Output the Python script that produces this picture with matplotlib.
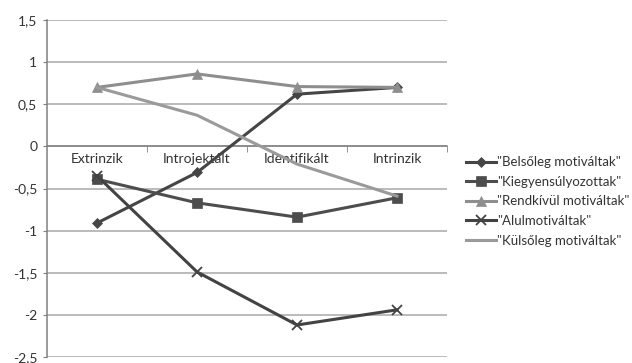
import matplotlib.pyplot as plt
from matplotlib.ticker import FuncFormatter, FixedLocator

# motivation profiles across regulation types
categories = ["Extrinzik", "Introjektált", "Identifikált", "Intrinzik"]
belsoleg = [-0.91, -0.31, 0.62, 0.70]
kiegyensulyozott = [-0.39, -0.67, -0.84, -0.61]
rendkivul = [0.70, 0.86, 0.71, 0.70]
alulmotivalt = [-0.35, -1.49, -2.12, -1.94]
kulsoleg = [0.70, 0.37, -0.21, -0.59]

plt.rcParams['font.family'] = ['Lato', 'DejaVu Sans']

fig = plt.figure(figsize=(6.32, 3.63), dpi=100)
ax = fig.add_axes([0.0744, 0.0165, 0.6329, 0.9284])

x = range(len(categories))
series = [
    ('"Belsőleg motiváltak"', belsoleg, "#454545", "D", 5),
    ('"Kiegyensúlyozottak"', kiegyensulyozott, "#4d4d4d", "s", 6.5),
    ('"Rendkívül motiváltak"', rendkivul, "#8e8e8e", "^", 7),
    ('"Alulmotiváltak"', alulmotivalt, "#434343", "x", 7),
    ('"Külsőleg motiváltak"', kulsoleg, "#9a9a9a", None, 0),
]
for label, vals, col, mk, ms in series:
    ax.plot(x, vals, color=col, lw=2.2, marker=mk, ms=ms,
            mew=1.3 if mk == "x" else 0.5, mec=col, mfc=col,
            label=label, zorder=3)

ax.set_xlim(-0.5, 3.5)
ax.set_ylim(-2.5, 1.5)
ax.set_yticks([1.5, 1, 0.5, 0, -0.5, -1, -1.5, -2, -2.5])
ax.yaxis.set_major_formatter(FuncFormatter(lambda v, p: f"{v:g}".replace(".", ",")))
ax.grid(axis="y", color="#a8a8a8", lw=1.1)
ax.set_axisbelow(True)

# category axis crosses at zero, like a spreadsheet chart
ax.spines["bottom"].set_position(("data", 0))
ax.spines["bottom"].set_color("#808080")
ax.spines["bottom"].set_linewidth(1.1)
ax.spines["left"].set_color("#808080")
ax.spines["left"].set_linewidth(1.1)
for s in ("top", "right"):
    ax.spines[s].set_visible(False)

ax.set_xticks(list(x))
ax.set_xticklabels(categories)
ax.xaxis.set_minor_locator(FixedLocator([0.5, 1.5, 2.5, 3.5]))
ax.tick_params(axis="x", which="major", length=0, pad=5, labelsize=10, labelcolor="#333333")
ax.tick_params(axis="x", which="minor", length=4, color="#808080", direction="out")
ax.tick_params(axis="y", length=3, color="#808080", labelsize=10, labelcolor="#333333", pad=4)

fig.legend(*ax.get_legend_handles_labels(), loc="center left",
           bbox_to_anchor=(466 / 632, 1 - 201.5 / 363), frameon=False,
           fontsize=9.5, handlelength=2.27, handletextpad=0.1,
           labelspacing=0.57, labelcolor="#333333",
           borderpad=0, borderaxespad=0)

fig.savefig("out.png", dpi=100, facecolor="white")
